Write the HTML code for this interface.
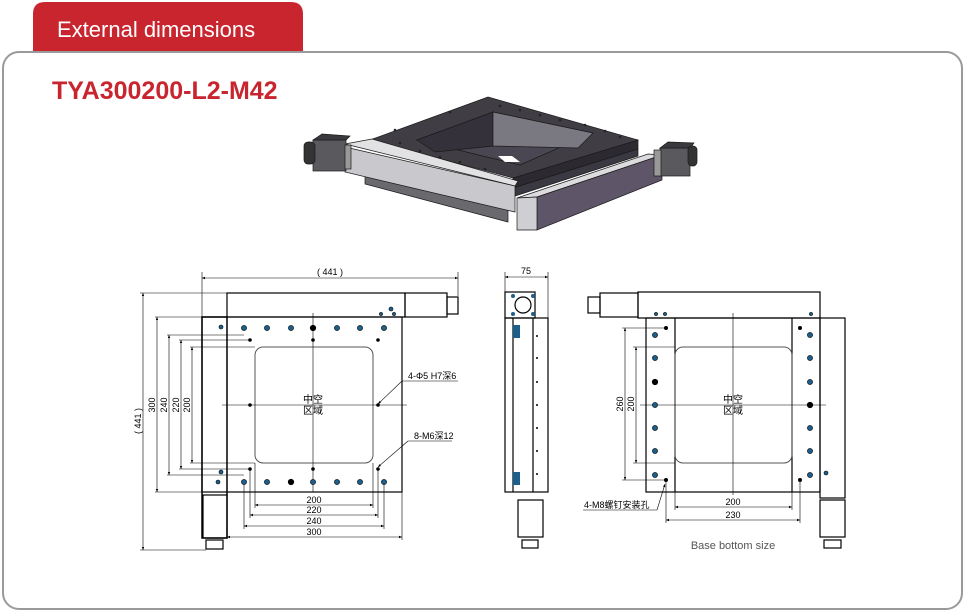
<!DOCTYPE html>
<html><head><meta charset="utf-8"><style>
html,body{margin:0;padding:0;background:#fff;}
svg{display:block;}
text{font-family:"Liberation Sans","Noto Sans CJK SC",sans-serif;}
</style></head><body>
<svg width="966" height="613" viewBox="0 0 966 613" xmlns="http://www.w3.org/2000/svg">
<defs>
<marker id="a" viewBox="0 0 10 10" refX="10" refY="5" markerWidth="7" markerHeight="5" orient="auto-start-reverse"><path d="M0,1 L10,5 L0,9z" fill="#000"/></marker>
</defs>
<!-- tab -->
<path d="M33,52 V14 Q33,2 45,2 H291 Q303,2 303,14 V52 Z" fill="#c8252f"/>
<text x="57" y="37" font-size="22" fill="#fff">External dimensions</text>
<!-- panel -->
<rect x="3" y="52" width="959" height="557" rx="16" fill="none" stroke="#9a9a9a" stroke-width="2"/>
<text x="52" y="99" font-size="25" font-weight="bold" fill="#c8252f">TYA300200-L2-M42</text>

<!-- 3D image -->
<g stroke="#1a1a1a" stroke-width="0.7">
<!-- bottom base under left rail -->
<polygon points="365,170 508,208 508,222 365,184" fill="#6a6a6e"/>
<!-- plate thickness -->
<polygon points="513,178 638,140 638,149 513,188" fill="#2c2a30"/>
<!-- plate top -->
<polygon points="370,140 488,97 638,140 513,178" fill="#403e44"/>
<!-- hollow -->
<polygon points="417,140 493,112 593,133 520,165" fill="#4b4752"/>
<polygon points="417,140 493,112 493,146 435,152" fill="#35313b"/>
<polygon points="493,112 593,133 578,148 493,146" fill="#7a7880"/>
<polygon points="498,156 512,156 520,162 505,162" fill="#fff" stroke="none"/>
<!-- rail under right -->
<polygon points="513,188 638,149 638,156 515,196" fill="#3a3840"/>
<!-- left rail -->
<polygon points="345,144 372,139 518,181 515,186" fill="#e2e2e4"/>
<polygon points="345,147 515,186 515,212 345,172" fill="#c9c9cd"/>
<!-- right rail -->
<polygon points="517,198 648,154 662,155 537,197" fill="#dcdcde"/>
<polygon points="537,197 662,155 662,180 537,230" fill="#5e5668"/>
<polygon points="517,198 537,197 537,230 517,230" fill="#cfcfd3"/>
<!-- motors -->
<rect x="313" y="140" width="33" height="31" fill="#5a5a5e"/>
<polygon points="313,140 322,134 350,136 346,140" fill="#3a3a3e"/>
<rect x="304" y="142" width="11" height="22" rx="4" fill="#333"/>
<rect x="345" y="145" width="6" height="24" fill="#999"/>
<rect x="660" y="148" width="30" height="28" fill="#5a5a5e"/>
<polygon points="660,148 668,142 694,143 690,148" fill="#3a3a3e"/>
<rect x="688" y="146" width="9" height="20" rx="4" fill="#333"/>
<rect x="654" y="150" width="7" height="26" fill="#999"/>
</g>
<g fill="#222"><circle cx="400" cy="143" r="1.3"/><circle cx="420" cy="151" r="1.3"/><circle cx="440" cy="157" r="1.3"/><circle cx="460" cy="162" r="1.3"/><circle cx="485" cy="169" r="1.3"/><circle cx="500" cy="106" r="1.3"/><circle cx="520" cy="110" r="1.3"/><circle cx="540" cy="115" r="1.3"/><circle cx="560" cy="120" r="1.3"/><circle cx="585" cy="125" r="1.3"/><circle cx="605" cy="131" r="1.3"/><circle cx="620" cy="137" r="1.3"/><circle cx="395" cy="130" r="1.3"/><circle cx="450" cy="112" r="1.3"/></g>

<!-- ===== Front view ===== -->
<g fill="none" stroke="#000" stroke-width="1.2">
<rect x="227" y="293" width="178" height="24"/>
<rect x="405" y="293" width="42" height="24"/>
<rect x="447" y="297" width="11" height="17"/>
<rect x="202" y="317" width="200" height="175"/>
<rect x="202" y="317" width="25" height="221" stroke-width="1.5"/>
<rect x="203" y="495" width="24" height="43"/>
<rect x="206" y="540" width="17" height="9"/>
<rect x="255" y="347" width="118" height="116" rx="8" stroke="#555" stroke-width="1"/>
</g>
<g stroke="#000" stroke-width="0.6">
<line x1="313" y1="313" x2="313" y2="492"/>
<line x1="222" y1="405" x2="407" y2="405"/>
<line x1="202" y1="278" x2="458" y2="278" marker-start="url(#a)" marker-end="url(#a)"/>
<line x1="202" y1="272" x2="202" y2="317"/><line x1="458" y1="272" x2="458" y2="296"/>
<line x1="143" y1="293" x2="143" y2="550" marker-start="url(#a)" marker-end="url(#a)"/>
<line x1="140" y1="293" x2="227" y2="293"/><line x1="140" y1="550" x2="206" y2="550"/>
<line x1="157" y1="317" x2="157" y2="492" marker-start="url(#a)" marker-end="url(#a)"/>
<line x1="155" y1="317" x2="202" y2="317"/><line x1="155" y1="492" x2="202" y2="492"/>
<line x1="169" y1="335" x2="169" y2="475" marker-start="url(#a)" marker-end="url(#a)"/>
<line x1="167" y1="335" x2="244" y2="335"/><line x1="167" y1="475" x2="244" y2="475"/>
<line x1="181" y1="340" x2="181" y2="469" marker-start="url(#a)" marker-end="url(#a)"/>
<line x1="179" y1="340" x2="250" y2="340"/><line x1="179" y1="469" x2="250" y2="469"/>
<line x1="192" y1="347" x2="192" y2="463" marker-start="url(#a)" marker-end="url(#a)"/>
<line x1="190" y1="347" x2="255" y2="347"/><line x1="190" y1="463" x2="255" y2="463"/>
<line x1="255" y1="505" x2="373" y2="505" marker-start="url(#a)" marker-end="url(#a)"/>
<line x1="250" y1="515" x2="378" y2="515" marker-start="url(#a)" marker-end="url(#a)"/>
<line x1="244" y1="526" x2="384" y2="526" marker-start="url(#a)" marker-end="url(#a)"/>
<line x1="227" y1="537" x2="402" y2="537" marker-start="url(#a)" marker-end="url(#a)"/>
<line x1="255" y1="463" x2="255" y2="508"/><line x1="373" y1="463" x2="373" y2="508"/>
<line x1="250" y1="469" x2="250" y2="518"/><line x1="378" y1="469" x2="378" y2="518"/>
<line x1="244" y1="482" x2="244" y2="529"/><line x1="384" y1="482" x2="384" y2="529"/>
<line x1="402" y1="492" x2="402" y2="540"/>
<line x1="402" y1="381" x2="378" y2="404" marker-end="url(#a)"/>
<line x1="402" y1="381" x2="458" y2="381"/>
<line x1="408" y1="441" x2="378" y2="467" marker-end="url(#a)"/>
<line x1="408" y1="441" x2="452" y2="441"/>
</g>
<g font-size="9" fill="#000">
<text x="330" y="275" text-anchor="middle">( 441 )</text>
<text x="314" y="503" text-anchor="middle">200</text>
<text x="314" y="513" text-anchor="middle">220</text>
<text x="314" y="524" text-anchor="middle">240</text>
<text x="314" y="535" text-anchor="middle">300</text>
<text transform="translate(141,421) rotate(-90)" text-anchor="middle">( 441 )</text>
<text transform="translate(155,405) rotate(-90)" text-anchor="middle">300</text>
<text transform="translate(167,405) rotate(-90)" text-anchor="middle">240</text>
<text transform="translate(179,405) rotate(-90)" text-anchor="middle">220</text>
<text transform="translate(190,405) rotate(-90)" text-anchor="middle">200</text>
<text x="408" y="379">4-Φ5 H7深6</text>
<text x="414" y="439">8-M6深12</text>
<text x="313" y="403" text-anchor="middle" font-size="10">中空</text>
<text x="313" y="414" text-anchor="middle" font-size="10">区域</text>
</g>
<g fill="#1c5f8c" stroke="#000" stroke-width="0.6">
<circle cx="244" cy="328" r="2.6"/><circle cx="267" cy="328" r="2.6"/><circle cx="291" cy="328" r="2.6"/><circle cx="313" cy="328" r="2.8" fill="#000"/><circle cx="337" cy="328" r="2.6"/><circle cx="360" cy="328" r="2.6"/><circle cx="384" cy="328" r="2.6"/>
<circle cx="244" cy="482" r="2.6"/><circle cx="267" cy="482" r="2.6"/><circle cx="291" cy="482" r="2.8" fill="#000"/><circle cx="313" cy="482" r="2.6"/><circle cx="337" cy="482" r="2.6"/><circle cx="360" cy="482" r="2.6"/><circle cx="384" cy="482" r="2.6"/>
<circle cx="221" cy="327" r="2"/><circle cx="221" cy="472" r="2"/><circle cx="218" cy="482" r="2"/><circle cx="391" cy="309" r="2"/><circle cx="381" cy="314" r="1.6"/><circle cx="394" cy="314" r="1.6"/>
</g>
<g fill="#000"><circle cx="250" cy="340" r="1.8"/><circle cx="378" cy="340" r="1.8"/><circle cx="313" cy="340" r="1.8"/><circle cx="250" cy="469" r="1.8"/><circle cx="378" cy="469" r="1.8"/><circle cx="313" cy="469" r="1.8"/><circle cx="250" cy="405" r="1.8"/><circle cx="378" cy="405" r="1.8"/></g>

<!-- ===== Side view ===== -->
<g fill="none" stroke="#000" stroke-width="1.2">
<rect x="505" y="292" width="30" height="26"/>
<circle cx="523" cy="305" r="8"/>
<rect x="505" y="318" width="43" height="174"/>
<line x1="513" y1="318" x2="513" y2="492"/><line x1="533" y1="318" x2="533" y2="492"/>
<rect x="518" y="500" width="25" height="37"/>
<rect x="522" y="540" width="16" height="8"/>
</g>
<g stroke="#000" stroke-width="0.6">
<line x1="505" y1="277" x2="548" y2="277" marker-start="url(#a)" marker-end="url(#a)"/>
<line x1="505" y1="272" x2="505" y2="292"/><line x1="548" y1="272" x2="548" y2="318"/>
</g>
<text x="526" y="274" font-size="9" text-anchor="middle">75</text>
<g fill="#1c5f8c"><rect x="513" y="325" width="7" height="13"/><rect x="513" y="472" width="7" height="13"/><circle cx="513" cy="296" r="2"/><circle cx="533" cy="296" r="2"/><circle cx="513" cy="314" r="2"/><circle cx="533" cy="314" r="2"/></g>
<g fill="#000"><circle cx="537" cy="336" r="1"/><circle cx="537" cy="358" r="1"/><circle cx="537" cy="382" r="1"/><circle cx="537" cy="405" r="1"/><circle cx="537" cy="428" r="1"/><circle cx="537" cy="451" r="1"/><circle cx="537" cy="474" r="1"/></g>

<!-- ===== Base view ===== -->
<g fill="none" stroke="#000" stroke-width="1.2">
<rect x="638" y="292" width="182" height="26"/>
<rect x="600" y="293" width="38" height="24"/>
<rect x="588" y="297" width="12" height="16"/>
<rect x="646" y="318" width="174" height="174"/>
<rect x="820" y="318" width="25" height="180"/>
<rect x="820" y="500" width="25" height="37"/>
<rect x="824" y="540" width="17" height="8"/>
<line x1="675" y1="318" x2="675" y2="492"/><line x1="792" y1="318" x2="792" y2="492"/>
<rect x="675" y="347" width="117" height="116" rx="8" stroke="#555" stroke-width="1"/>
</g>
<g stroke="#000" stroke-width="0.6">
<line x1="733" y1="313" x2="733" y2="495"/>
<line x1="640" y1="405" x2="826" y2="405"/>
<line x1="625" y1="328" x2="625" y2="480" marker-start="url(#a)" marker-end="url(#a)"/>
<line x1="622" y1="328" x2="665" y2="328"/><line x1="622" y1="480" x2="665" y2="480"/>
<line x1="636" y1="347" x2="636" y2="463" marker-start="url(#a)" marker-end="url(#a)"/>
<line x1="633" y1="347" x2="675" y2="347"/><line x1="633" y1="463" x2="675" y2="463"/>
<line x1="675" y1="507" x2="792" y2="507" marker-start="url(#a)" marker-end="url(#a)"/>
<line x1="666" y1="520" x2="800" y2="520" marker-start="url(#a)" marker-end="url(#a)"/>
<line x1="675" y1="492" x2="675" y2="510"/><line x1="792" y1="492" x2="792" y2="510"/>
<line x1="666" y1="482" x2="666" y2="523"/><line x1="800" y1="482" x2="800" y2="523"/>
<line x1="657" y1="510" x2="665" y2="484" marker-end="url(#a)"/>
<line x1="583" y1="510" x2="657" y2="510"/>
</g>
<g font-size="9" fill="#000">
<text transform="translate(623,404) rotate(-90)" text-anchor="middle">260</text>
<text transform="translate(634,404) rotate(-90)" text-anchor="middle">200</text>
<text x="733" y="505" text-anchor="middle">200</text>
<text x="733" y="518" text-anchor="middle">230</text>
<text x="584" y="508">4-M8螺钉安装孔</text>
<text x="733" y="403" text-anchor="middle" font-size="10">中空</text>
<text x="733" y="414" text-anchor="middle" font-size="10">区域</text>
</g>
<text x="733" y="549" font-size="11" fill="#555" text-anchor="middle">Base bottom size</text>
<g fill="#1c5f8c" stroke="#000" stroke-width="0.6">
<circle cx="655" cy="335" r="2.6"/><circle cx="655" cy="358" r="2.6"/><circle cx="655" cy="382" r="2.8" fill="#000"/><circle cx="655" cy="405" r="2.6"/><circle cx="655" cy="428" r="2.6"/><circle cx="655" cy="451" r="2.6"/><circle cx="655" cy="475" r="2.6"/>
<circle cx="810" cy="335" r="2.6"/><circle cx="810" cy="358" r="2.6"/><circle cx="810" cy="382" r="2.6"/><circle cx="810" cy="405" r="2.8" fill="#000"/><circle cx="810" cy="428" r="2.6"/><circle cx="810" cy="451" r="2.6"/><circle cx="810" cy="475" r="2.6"/>
<circle cx="656" cy="314" r="1.6"/><circle cx="665" cy="314" r="1.6"/><circle cx="811" cy="314" r="1.6"/><circle cx="826" cy="473" r="2"/>
</g>
<g fill="#000"><circle cx="666" cy="328" r="2"/><circle cx="800" cy="328" r="2"/><circle cx="666" cy="480" r="2"/><circle cx="800" cy="480" r="2"/></g>
</svg>
</body></html>
